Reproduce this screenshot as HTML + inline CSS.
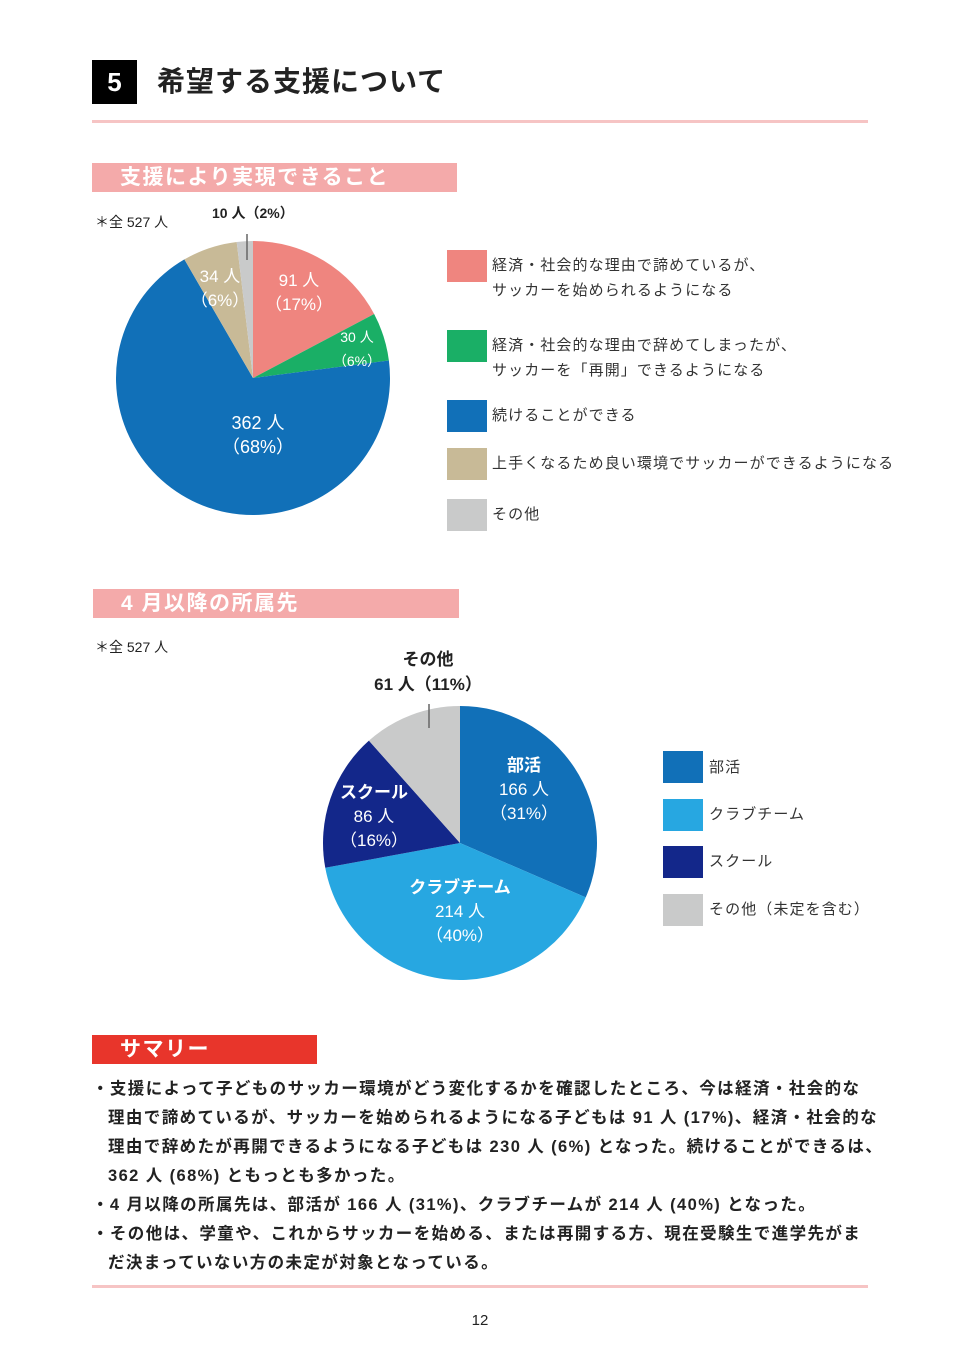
<!DOCTYPE html>
<html><head><meta charset="utf-8"><style>
body{margin:0;width:960px;height:1357px;background:#fff;position:relative;font-family:"Liberation Sans","Noto Sans CJK JP",sans-serif;color:#222;overflow:hidden}
.a{position:absolute;white-space:nowrap}
.bar{position:absolute;color:#fff;font-weight:bold;font-size:21px;line-height:30px;padding-left:28px;box-sizing:border-box;letter-spacing:1.5px;white-space:nowrap}
.sq{position:absolute;width:40px;height:32px}
.lg{position:absolute;font-size:15px;line-height:25px;white-space:nowrap;color:#333;letter-spacing:1.1px}
.sum{position:absolute;left:92px;top:1075px;font-size:16.5px;font-weight:bold;line-height:29px;color:#222;white-space:nowrap;letter-spacing:1.4px}
.sum div{padding-left:16px;text-indent:-16px}
</style></head><body>
<div class="a" style="left:92px;top:60px;width:45px;height:44px;background:#000;color:#fff;font-size:26px;font-weight:bold;text-align:center;line-height:44px">5</div>
<div class="a" style="left:157px;top:63px;font-size:28px;font-weight:bold;line-height:38px;letter-spacing:1px">希望する支援について</div>
<div class="a" style="left:92px;top:120px;width:776px;height:3px;background:#f6c4c4"></div>

<div class="bar" style="left:92px;top:163px;width:365px;height:29px;background:#f4aaaa">支援により実現できること</div>
<div class="a" style="left:95px;top:212px;font-size:14px">＊全 527 人</div>
<div class="a" style="left:212px;top:203px;font-size:14px;font-weight:bold">10 人（2%）</div>

<svg class="a" style="left:0;top:0" width="960" height="1357" id="s">
</svg>

<div class="sq" style="left:447px;top:250px;background:#ef857f"></div>
<div class="lg" style="left:492px;top:253px">経済・社会的な理由で諦めているが、<br>サッカーを始められるようになる</div>
<div class="sq" style="left:447px;top:330px;background:#1aaf66"></div>
<div class="lg" style="left:492px;top:333px">経済・社会的な理由で辞めてしまったが、<br>サッカーを「再開」できるようになる</div>
<div class="sq" style="left:447px;top:400px;background:#1170b8"></div>
<div class="lg" style="left:492px;top:403px">続けることができる</div>
<div class="sq" style="left:447px;top:448px;background:#c8ba97"></div>
<div class="lg" style="left:492px;top:451px">上手くなるため良い環境でサッカーができるようになる</div>
<div class="sq" style="left:447px;top:499px;background:#c9caca"></div>
<div class="lg" style="left:492px;top:502px">その他</div>

<div class="bar" style="left:93px;top:589px;width:366px;height:29px;background:#f4aaaa">4 月以降の所属先</div>
<div class="a" style="left:95px;top:637px;font-size:14px">＊全 527 人</div>
<div class="a" style="left:360px;top:647px;width:136px;text-align:center;font-size:17px;font-weight:bold;line-height:25px">その他<br>61 人（11%）</div>

<div class="sq" style="left:663px;top:751px;background:#1170b8"></div>
<div class="lg" style="left:709px;top:755px">部活</div>
<div class="sq" style="left:663px;top:799px;background:#27a7e1"></div>
<div class="lg" style="left:709px;top:802px">クラブチーム</div>
<div class="sq" style="left:663px;top:846px;background:#13278a"></div>
<div class="lg" style="left:709px;top:849px">スクール</div>
<div class="sq" style="left:663px;top:894px;background:#c9caca"></div>
<div class="lg" style="left:709px;top:897px">その他（未定を含む）</div>

<div class="bar" style="left:92px;top:1035px;width:225px;height:29px;background:#e8352b">サマリー</div>
<div class="sum">
<div>・支援によって子どものサッカー環境がどう変化するかを確認したところ、今は経済・社会的な<br>理由で諦めているが、サッカーを始められるようになる子どもは 91 人 (17%)、経済・社会的な<br>理由で辞めたが再開できるようになる子どもは 230 人 (6%) となった。続けることができるは、<br>362 人 (68%) ともっとも多かった。</div>
<div>・4 月以降の所属先は、部活が 166 人 (31%)、クラブチームが 214 人 (40%) となった。</div>
<div>・その他は、学童や、これからサッカーを始める、または再開する方、現在受験生で進学先がま<br>だ決まっていない方の未定が対象となっている。</div>
</div>
<div class="a" style="left:92px;top:1285px;width:776px;height:3px;background:#f6c4c4"></div>
<div class="a" style="left:0;width:960px;text-align:center;top:1312px;font-size:15px">12</div>

<script>
var s=document.getElementById('s'),h='';
function pie(cx,cy,r,data){var a=0,t=data.reduce(function(x,d){return x+d[0]},0);
data.forEach(function(d){var a1=a+d[0]/t*2*Math.PI;
var x0=cx+r*Math.sin(a),y0=cy-r*Math.cos(a),x1=cx+r*Math.sin(a1),y1=cy-r*Math.cos(a1);
h+='<path d="M'+cx+' '+cy+'L'+x0+' '+y0+'A'+r+' '+r+' 0 '+((a1-a)>Math.PI?1:0)+' 1 '+x1+' '+y1+'Z" fill="'+d[1]+'"/>';a=a1;});}
pie(253,378,137,[[91,'#ef857f'],[30,'#1aaf66'],[362,'#1170b8'],[34,'#c8ba97'],[10,'#c9caca']]);
pie(460,843,137,[[166,'#1170b8'],[214,'#27a7e1'],[86,'#13278a'],[61,'#c9caca']]);
h+='<line x1="247" y1="234" x2="247" y2="260" stroke="#666" stroke-width="1.5"/>';
h+='<line x1="429" y1="704" x2="429" y2="728" stroke="#666" stroke-width="1.5"/>';
function tx(x,y,t,sz,b){h+='<text x="'+x+'" y="'+y+'" text-anchor="middle" fill="#fff" font-size="'+sz+'" '+(b?'font-weight="bold"':'')+' font-family="Liberation Sans,Noto Sans CJK JP,sans-serif">'+t+'</text>';}
tx(299,286,'91 人',17);tx(299,310,'（17%）',17);
tx(220,282,'34 人',17);tx(220,306,'（6%）',17);
tx(357,342,'30 人',14);tx(357,366,'（6%）',14);
tx(258,429,'362 人',18);tx(258,453,'（68%）',18);
tx(524,771,'部活',17,1);tx(524,795,'166 人',17);tx(524,819,'（31%）',17);
tx(460,893,'クラブチーム',17,1);tx(460,917,'214 人',17);tx(460,941,'（40%）',17);
tx(374,798,'スクール',17,1);tx(374,822,'86 人',17);tx(374,846,'（16%）',17);
s.innerHTML=h;
</script>
</body></html>
